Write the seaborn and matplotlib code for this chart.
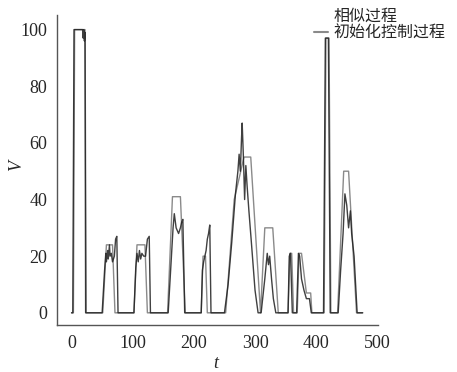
import matplotlib
matplotlib.use("Agg")
import matplotlib.pyplot as plt
from matplotlib.lines import Line2D
import pandas as pd
import seaborn as sns

# breakpoints (t in s, V)
t_init = [0, 3, 5, 22, 24, 51, 57, 67, 71, 102, 107, 120, 124, 157, 165, 178, 186,
          212, 215, 219, 222, 252, 266, 282, 293, 309, 316, 329, 338,
          354, 357, 360, 363, 369, 372, 376, 384, 391, 393,
          413, 416, 421, 424, 435, 445, 453, 466, 476]
v_init = [0, 0, 100, 100, 0, 0, 24, 24, 0, 0, 24, 24, 0, 0, 41, 41, 0,
          0, 20, 20, 0, 0, 40, 55, 55, 0, 30, 30, 0,
          0, 21, 21, 0, 0, 21, 21, 7, 7, 0,
          0, 97, 97, 0, 0, 50, 50, 0, 0]

t_sim = [0, 2, 4, 18, 19, 20, 21, 22, 23,
         50, 54, 56, 57, 59, 60, 62, 63, 65, 67, 70, 72, 74, 76,
         102, 105, 107, 109, 111, 113, 115, 118, 121, 124, 127, 129,
         158, 162, 166, 168, 171, 175, 178, 180, 182, 185,
         212, 214, 216, 218, 220, 222, 224, 226, 228,
         250, 256, 262, 268, 272, 274, 276, 278, 279, 281, 283, 285, 287, 290, 294, 300, 305,
         310, 316, 320, 322, 324, 327, 330, 334,
         354, 356, 358, 361, 368, 371, 373, 376, 380, 384, 389, 392,
         412, 415, 420, 423,
         436, 440, 444, 447, 450, 453, 456, 458, 462, 467, 476]
v_sim = [0, 0, 100, 100, 97, 100, 96, 99, 0,
         0, 15, 21, 18, 22, 19, 24, 20, 21, 18, 20, 26, 27, 0,
         0, 16, 21, 18, 22, 19, 21, 20, 20, 26, 27, 0,
         0, 15, 30, 35, 30, 28, 30, 32, 33, 0,
         0, 15, 18, 20, 22, 26, 28, 31, 0,
         0, 10, 25, 42, 50, 56, 50, 62, 67, 55, 40, 52, 45, 36, 25, 8, 0,
         0, 12, 21, 17, 20, 12, 5, 0,
         0, 20, 21, 0, 0, 21, 20, 12, 8, 5, 5, 0,
         0, 97, 97, 0,
         0, 15, 28, 42, 38, 30, 36, 28, 20, 0, 0]

labels = ["相似过程", "初始化控制过程"]

df = pd.concat([
    pd.DataFrame({"t": t_sim, "V": v_sim, "series": labels[0]}),
    pd.DataFrame({"t": t_init, "V": v_init, "series": labels[1]}),
])

sns.set_style("white")
plt.rcParams["font.family"] = ["Liberation Serif", "DejaVu Serif"]

fig = plt.figure(figsize=(4.57, 3.72), dpi=100)
ax = fig.add_axes([0.125, 0.126, 0.702, 0.834])

sns.lineplot(data=df, x="t", y="V", hue="series", units="series", estimator=None,
             sort=False, palette={labels[0]: "#1e1e1e", labels[1]: "#8a8a8a"},
             hue_order=[labels[1], labels[0]], linewidth=1.0, legend=False, ax=ax)
for line in ax.lines:
    if line.get_color() == "#1e1e1e":
        line.set_alpha(0.85)

ax.set_xlim(-23.6, 501)
ax.set_ylim(-4.35, 105.2)
ax.set_xticks([0, 100, 200, 300, 400, 500])
ax.set_yticks([0, 20, 40, 60, 80, 100])
ax.tick_params(labelsize=13, length=3, width=0.8, color="#555555", pad=4)
for side in ["top", "right"]:
    ax.spines[side].set_visible(False)
for side in ["left", "bottom"]:
    ax.spines[side].set_color("#555555")
    ax.spines[side].set_linewidth(1.0)

# axis labels placed where the reference has them
ax.set_xlabel("t", fontsize=13, style="italic", va="center", ha="center")
ax.set_ylabel("V", fontsize=13, style="italic", va="center", ha="center")
ax.xaxis.set_label_coords(0.495, -0.125)
ax.yaxis.set_label_coords(-0.125, 0.516)

handles = [Line2D([], [], color="white", lw=1.5), Line2D([], [], color="#8a8a8a", lw=1.5)]
fig.legend(handles, labels, loc="upper left", bbox_to_anchor=(0.687, 0.98),
           frameon=False, handlelength=0.9, handletextpad=0.3, labelspacing=0.0,
           borderpad=0, borderaxespad=0,
           prop={"family": ["Noto Sans CJK SC", "DejaVu Sans"], "size": 11.5})

fig.savefig("out.png", dpi=100)
